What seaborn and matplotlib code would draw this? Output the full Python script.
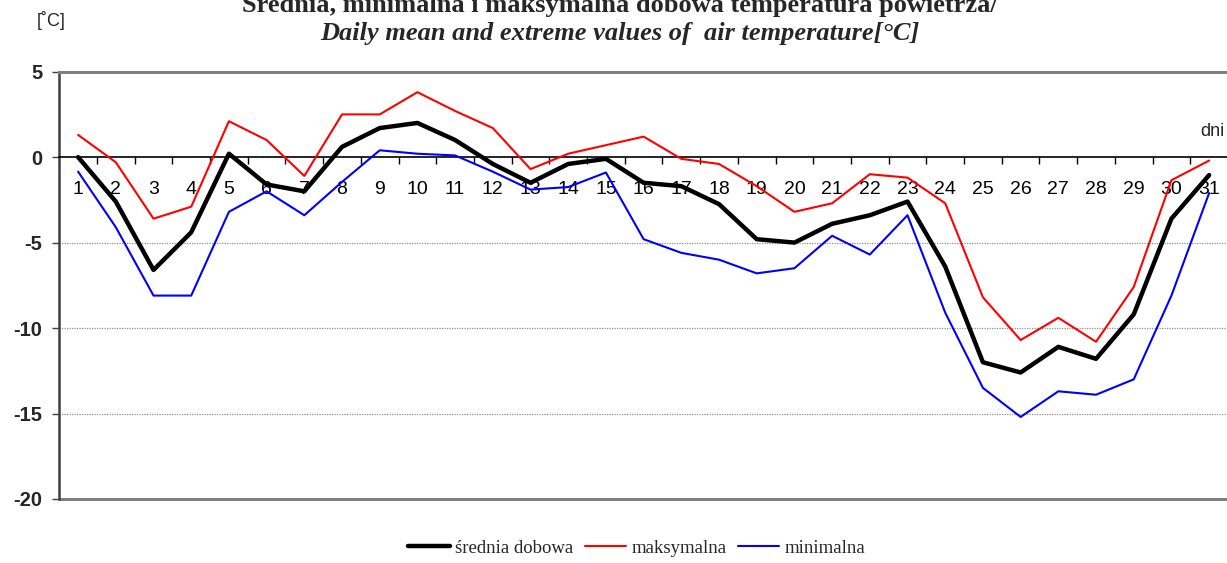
# -*- coding: utf-8 -*-
"""
Średnia, minimalna i maksymalna dobowa temperatura powietrza (wykres liniowy).
"""

import numpy as np
import pandas as pd
import matplotlib
matplotlib.use("Agg")
import matplotlib.pyplot as plt
import seaborn as sns

# Dane: dni miesiąca i temperatury [°C]
dni = list(range(1, 32))
srednia = [0.0, -2.6, -6.6, -4.4, 0.2, -1.6, -2.0, 0.6, 1.7, 2.0,
           1.0, -0.4, -1.5, -0.4, -0.1, -1.5, -1.7, -2.75, -4.8, -5.0,
           -3.9, -3.4, -2.6, -6.4, -12.0, -12.6, -11.1, -11.8, -9.2, -3.6,
           -1.05]
maksymalna = [1.3, -0.3, -3.6, -2.9, 2.1, 1.0, -1.1, 2.5, 2.5, 3.8,
              2.7, 1.7, -0.7, 0.2, 0.7, 1.2, -0.1, -0.4, -1.7, -3.2,
              -2.7, -1.0, -1.2, -2.7, -8.2, -10.7, -9.4, -10.8, -7.6, -1.35,
              -0.2]
minimalna = [-0.85, -4.1, -8.1, -8.1, -3.2, -2.0, -3.4, -1.45, 0.4, 0.2,
             0.1, -0.85, -1.9, -1.75, -0.9, -4.8, -5.6, -6.0, -6.8, -6.5,
             -4.6, -5.7, -3.4, -9.1, -13.5, -15.2, -13.7, -13.9, -13.0, -8.1,
             -2.1]
y_ticks = [5, 0, -5, -10, -15, -20]

df = pd.DataFrame({"dzien": dni, "srednia": srednia,
                   "maksymalna": maksymalna, "minimalna": minimalna})

sns.set_style("white")
plt.rcParams['font.family'] = ['Liberation Sans', 'DejaVu Sans']

fig = plt.figure(figsize=(12.27, 5.63), dpi=100)
ax = fig.add_axes([0.0483, 0.1137, 0.9525, 0.759])

# Linie serii
sns.lineplot(data=df, x="dzien", y="srednia", ax=ax, color="black",
             linewidth=3.2, label="średnia dobowa", zorder=4)
sns.lineplot(data=df, x="dzien", y="maksymalna", ax=ax, color="red",
             linewidth=1.5, label="maksymalna", zorder=3)
sns.lineplot(data=df, x="dzien", y="minimalna", ax=ax, color="blue",
             linewidth=1.5, label="minimalna", zorder=3)

ax.set_xlim(0.5, 31.5)
ax.set_ylim(-20, 5)
ax.set_xlabel("")
ax.set_ylabel("")

# Siatka pozioma
for v in [-5, -10, -15]:
    ax.axhline(v, color="#909090", linestyle=(0, (1, 1)), linewidth=0.9, zorder=1)
ax.axhline(-20, color="#808080", linewidth=2.2, zorder=2, clip_on=False)

# Ramka
ax.spines["top"].set_color("#808080")
ax.spines["top"].set_linewidth(2.2)
ax.spines["left"].set_color("#404040")
ax.spines["left"].set_linewidth(1.8)
ax.spines["right"].set_visible(False)
ax.spines["bottom"].set_position(("data", 0))
ax.spines["bottom"].set_color("black")
ax.spines["bottom"].set_linewidth(1.2)

# Oś X w zerze: etykiety dni i kreski między kategoriami
ax.set_xticks(dni)
ax.set_xticklabels([str(d) for d in dni])
ax.set_xticks(np.arange(1.5, 31.5, 1), minor=True)
ax.tick_params(axis="x", which="major", length=0, pad=17, labelsize=14,
               labelcolor="black")
ax.tick_params(axis="x", which="minor", length=5, width=1, color="black",
               direction="out", bottom=True)

ax.set_yticks(y_ticks)
ax.set_yticklabels([str(v) for v in y_ticks], fontweight="bold")
ax.tick_params(axis="y", which="major", length=5, width=1, color="#404040",
               direction="out", left=True, pad=7, labelsize=14.5)

ax.text(31.4, 1.5, "dni", fontsize=13, ha="right", va="center")

# Tytuł i jednostka
fig.text(0.505, 0.993, "Średnia, minimalna i maksymalna dobowa temperatura powietrza/",
         family=['Liberation Serif'], fontsize=19, fontweight="bold",
         ha="center", va="center")
fig.text(0.505, 0.941, "Daily mean and extreme values of  air temperature[°C]",
         family=['Liberation Serif'], fontsize=19, fontweight="bold",
         style="italic", ha="center", va="center")
fig.text(0.042, 0.963, "[˚C]", fontsize=13, ha="center", va="center")

# Legenda
ax.legend(loc="center", bbox_to_anchor=(637 / 1227, 1 - 548 / 563),
          bbox_transform=fig.transFigure, ncol=3, frameon=False,
          prop={"family": "Liberation Serif", "size": 13.5},
          handlelength=2.2, handletextpad=0.3, columnspacing=0.6)

plt.savefig("out.png", dpi=100)
